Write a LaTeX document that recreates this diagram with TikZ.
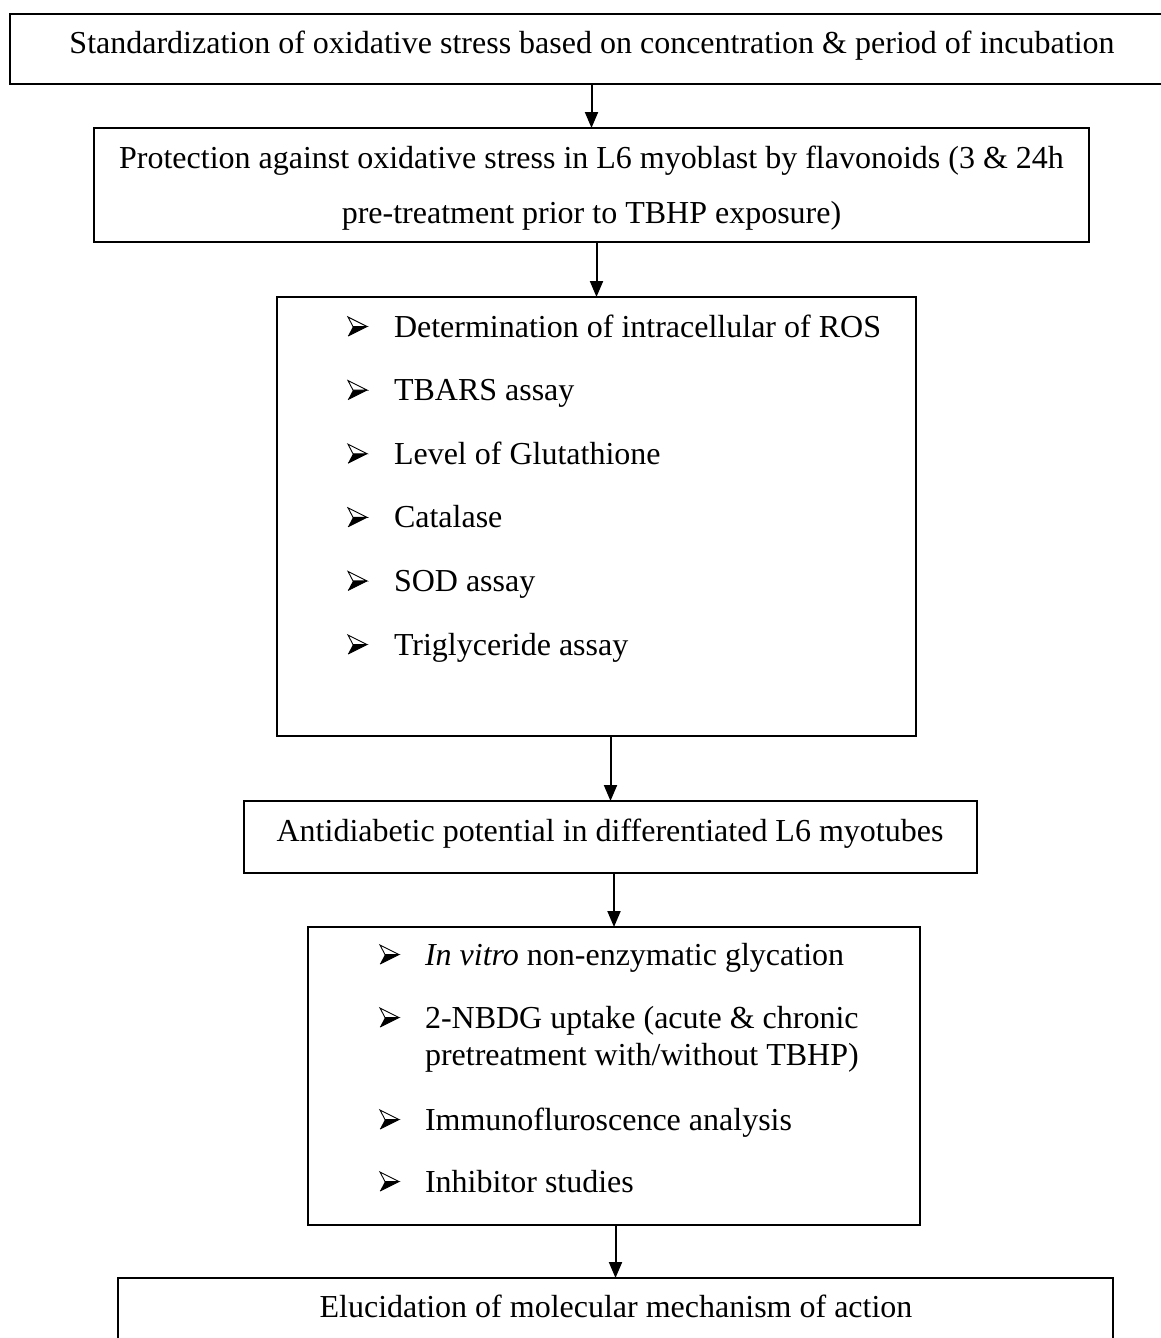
\documentclass[tikz,border=0pt]{standalone}
\usepackage{fontspec}
\setmainfont{Liberation Serif}
\usetikzlibrary{arrows.meta}
\begin{document}
\begin{tikzpicture}[x=1pt,y=-1pt,
  box/.style={draw=black, line width=2pt, rectangle, inner sep=0pt, outer sep=0pt, anchor=north west},
  txt/.style={inner sep=0pt, outer sep=0pt, font=\fontsize{32}{38}\selectfont},
  arr/.style={draw=black, line width=2pt, -{Triangle[length=16pt,width=13pt]}},
  bulletarrow/.pic={
    \fill[black] (5,-9.5) -- (19,-9.5) -- (0,0) -- cycle;
    \draw[black, line width=0.9pt, line join=miter, fill=white] (0,-19) -- (19,-9.5) -- (5,-9.5) -- cycle;
    \draw[black, line width=0.9pt] (0,0) -- (19,-9.5);
  }]
\useasboundingbox (0,0) rectangle (1161,1338);
% boxes
\node[box, minimum width=1165pt, minimum height=70pt] (b1) at (10,14) {};
\node[box, minimum width=995pt, minimum height=114pt] (b2) at (94,128) {};
\node[box, minimum width=639pt, minimum height=439pt] (b3) at (277,297) {};
\node[box, minimum width=733pt, minimum height=72pt] (b4) at (244,801) {};
\node[box, minimum width=612pt, minimum height=298pt] (b5) at (308,927) {};
\node[box, minimum width=995pt, minimum height=100pt] (b6) at (118,1278) {};
% texts
\node[txt, anchor=base] (t1) at (592,53) {Standardization of oxidative stress based on concentration \& period of incubation};
\node[txt, anchor=base] (t2a) at (591.5,168) {Protection against oxidative stress in L6 myoblast by flavonoids (3 \& 24h};
\node[txt, anchor=base] (t2b) at (591.5,223) {pre-treatment prior to TBHP exposure)};
\node[txt, anchor=base west] (t3a) at (394,337) {Determination of intracellular of ROS};
\node[txt, anchor=base west] (t3b) at (394,400.6) {TBARS assay};
\node[txt, anchor=base west] (t3c) at (394,464.2) {Level of Glutathione};
\node[txt, anchor=base west] (t3d) at (394,527.8) {Catalase};
\node[txt, anchor=base west] (t3e) at (394,591.4) {SOD assay};
\node[txt, anchor=base west] (t3f) at (394,655) {Triglyceride assay};
\node[txt, anchor=base] (t4) at (610,841) {Antidiabetic potential in differentiated L6 myotubes};
\node[txt, anchor=base west] (t5a) at (425,965) {\textit{In vitro} non-enzymatic glycation};
\node[txt, anchor=base west] (t5b) at (425,1028) {2-NBDG uptake (acute \& chronic};
\node[txt, anchor=base west] (t5c) at (425,1065) {pretreatment with/without TBHP)};
\node[txt, anchor=base west] (t5d) at (425,1130) {Immunofluroscence analysis};
\node[txt, anchor=base west] (t5e) at (425,1192) {Inhibitor studies};
\node[txt, anchor=base] (t6) at (616,1317) {Elucidation of molecular mechanism of action};
% bullets
\foreach \yy in {337,400.6,464.2,527.8,591.4,655} \pic at (348,\yy-1) {bulletarrow};
\foreach \yy in {965,1028,1130,1192} \pic at (380,\yy-1) {bulletarrow};
% connectors
\draw[arr] (b1.south -| b2.north) -- (b2.north);
\draw[arr] (b2.south -| b3.north) -- (b3.north);
\draw[arr] (b3.south -| b4.north) -- (b4.north);
\draw[arr] (b4.south -| b5.north) -- (b5.north);
\draw[arr] (b5.south -| b6.north) -- (b6.north);
\end{tikzpicture}
\end{document}
